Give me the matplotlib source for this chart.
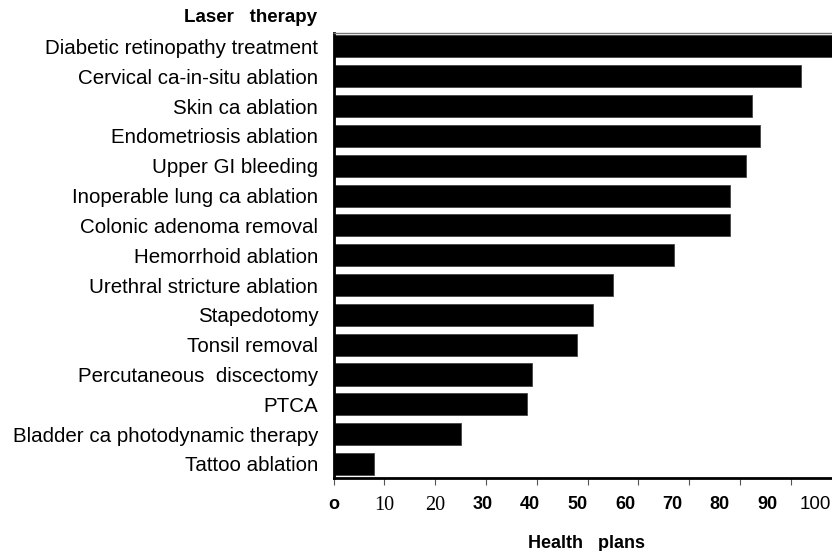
import matplotlib
matplotlib.use('Agg')
import matplotlib.pyplot as plt
import numpy as np

# Laser therapy coverage by health plans
procedures = ['Diabetic retinopathy treatment', 'Cervical ca-in-situ ablation',
              'Skin ca ablation', 'Endometriosis ablation', 'Upper GI bleeding',
              'Inoperable lung ca ablation', 'Colonic adenoma removal',
              'Hemorrhoid ablation', 'Urethral stricture ablation', 'Stapedotomy',
              'Tonsil removal', 'Percutaneous  discectomy', 'PTCA',
              'Bladder ca photodynamic therapy', 'Tattoo ablation']
plans = [100, 92, 82.3, 84, 81.2, 78, 78, 67, 55, 51, 48, 39, 38.1, 25.1, 8]

xticks = [0, 10, 20, 30, 40, 50, 60, 70, 80, 90, 100]
xtick_labels = ['o', '10', '20', '30', '40', '50', '60', '70', '80', '90', '100']
# the scanned original mixes fonts on the axis
xtick_fonts = ([('Liberation Sans', 'bold', 13), ('Liberation Serif', 'normal', 14.5),
                ('Liberation Serif', 'normal', 14.5)]
               + [('Liberation Sans', 'bold', 13)] * 7
               + [('Liberation Sans', 'normal', 13.5)])

plt.rcParams['font.family'] = ['Liberation Sans', 'DejaVu Sans']

fig = plt.figure(figsize=(8.32, 5.51), dpi=100)
ax = fig.add_axes([333.5 / 832, 1 - 478 / 551, 1 - 333.5 / 832, (478 - 33) / 551])

ypos = list(range(len(procedures)))
ax.barh(ypos, plans, height=0.74, color='black', edgecolor='#444444', linewidth=0.6)

ax.set_xlim(0, 98.1)
ax.set_ylim(14.47, -0.45)

ax.set_yticks(ypos)
ax.set_yticklabels(procedures, fontsize=14.8)
ax.tick_params(axis='y', length=0, pad=11)

# tick marks sit on the true scale, but the printed numbers drift left of them
ax.set_xticks(xticks[:-1])
ax.set_xticklabels([])
ax.tick_params(axis='x', length=5, width=0.8, color='#555555')


def to_label(x):
    x = np.asarray(x, dtype=float)
    return np.where(x <= 20, x, 20 + (x - 20) / 0.934)


def from_label(s):
    s = np.asarray(s, dtype=float)
    return np.where(s <= 20, s, 20 + (s - 20) * 0.934)


sec = ax.secondary_xaxis('bottom', functions=(to_label, from_label))
sec.spines['bottom'].set_visible(False)
sec.set_xticks(xticks)
sec.set_xticklabels(xtick_labels)
sec.tick_params(length=0, pad=13)
for lab, (fam, wt, fs) in zip(sec.get_xticklabels(), xtick_fonts):
    lab.set_fontfamily(fam)
    lab.set_fontweight(wt)
    lab.set_fontsize(fs)

ax.spines['right'].set_visible(False)
ax.spines['left'].set_linewidth(2)
ax.spines['bottom'].set_linewidth(2)
ax.spines['top'].set_linewidth(1)
ax.spines['top'].set_color('#777777')

ax.text(587 / 832, 1 - 543 / 551, 'Health   plans', transform=fig.transFigure,
        ha='center', va='center', fontsize=13, fontweight='bold')
ax.text(317 / 832, 1 - 18 / 551, 'Laser   therapy', transform=fig.transFigure,
        ha='right', va='center', fontsize=13.5, fontweight='bold')

plt.savefig('out.png', dpi=100)
